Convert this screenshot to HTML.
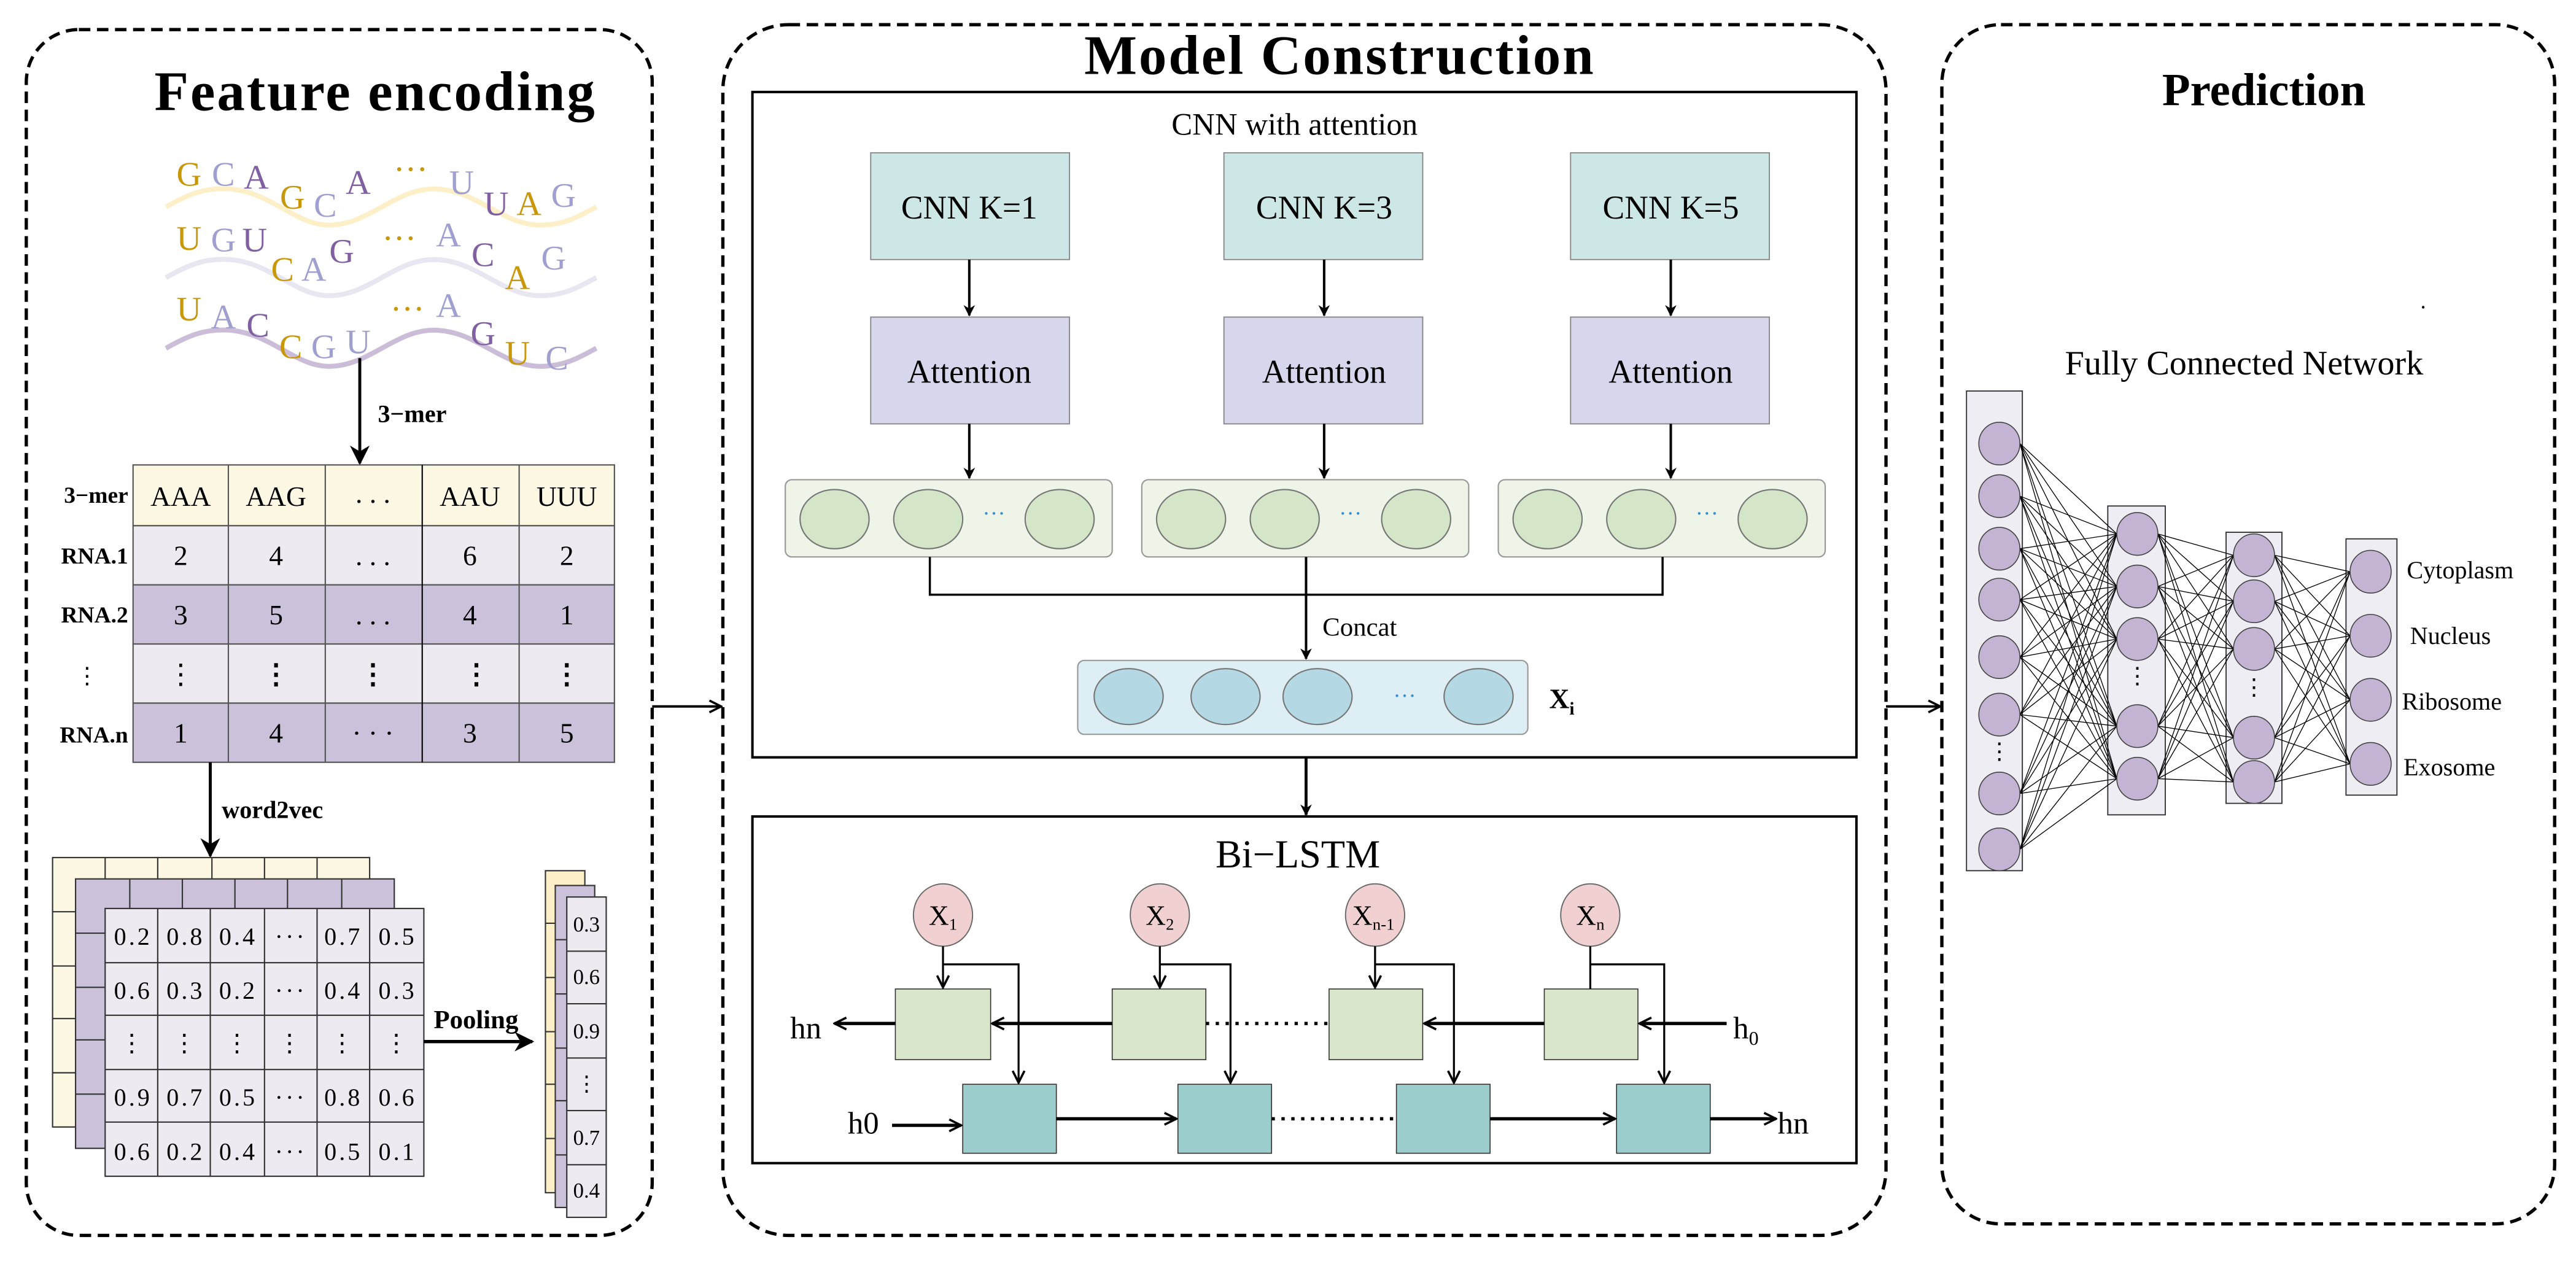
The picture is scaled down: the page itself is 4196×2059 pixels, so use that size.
<!DOCTYPE html>
<html><head><meta charset="utf-8"><style>html,body{margin:0;padding:0;background:#fff}svg{display:block}</style></head><body>
<svg width="4196" height="2059" viewBox="0 0 1568 769.4" preserveAspectRatio="none" xmlns="http://www.w3.org/2000/svg" font-family="Liberation Serif, serif">
<defs>
<marker id="a" viewBox="0 0 10 10" refX="9" refY="5" markerWidth="7" markerHeight="7" orient="auto" markerUnits="userSpaceOnUse"><path d="M0,0 L10,5 L0,10 L3,5 z" fill="#000"/></marker>
<marker id="o" viewBox="0 0 10 10" refX="9" refY="5" markerWidth="9" markerHeight="9" orient="auto" markerUnits="userSpaceOnUse"><path d="M1,1 L9,5 L1,9" fill="none" stroke="#000" stroke-width="1.5"/></marker>
<marker id="big" viewBox="0 0 10 10" refX="9" refY="5" markerWidth="12" markerHeight="12" orient="auto" markerUnits="userSpaceOnUse"><path d="M0,0 L10,5 L0,10 L3,5 z" fill="#000"/></marker>
</defs>
<rect x="16" y="18" width="381" height="734" rx="32" fill="none" stroke="#000" stroke-width="2" stroke-dasharray="7,4"/>
<rect x="440" y="15" width="708" height="737" rx="40" fill="none" stroke="#000" stroke-width="2" stroke-dasharray="7,4"/>
<rect x="1182" y="15" width="373" height="730" rx="36" fill="none" stroke="#000" stroke-width="2" stroke-dasharray="7,4"/>
<line x1="397" y1="430" x2="439" y2="430" stroke="#000" stroke-width="1.5" marker-end="url(#o)"/>
<line x1="1148" y1="430" x2="1181" y2="430" stroke="#000" stroke-width="1.5" marker-end="url(#o)"/>

<text x="228" y="67" font-size="34" font-weight="bold" text-anchor="middle" textLength="268">Feature encoding</text>
<g fill="none" stroke-width="3">
<path d="M101,126 C115,118 125,114 140,115 C165,117 180,137 200,137 C225,137 240,115 264,115 C290,115 305,137 329,137 C345,137 355,130 363,126" stroke="#fdf0c8"/>
<path d="M101,169 C115,161 125,157 140,158 C165,160 180,180 200,180 C225,180 240,158 264,158 C290,158 305,180 329,180 C345,180 355,173 363,169" stroke="#e8e6f0"/>
<path d="M101,212 C115,204 125,200 140,201 C165,203 180,223 200,223 C225,223 240,201 264,201 C290,201 305,223 329,223 C345,223 355,216 363,212" stroke="#cbbcd8"/>
</g>
<g font-size="21" text-anchor="middle">
<text x="115" y="113" fill="#c8980a">G</text><text x="136" y="113" fill="#a0a0d0">C</text><text x="156" y="115" fill="#8060a0">A</text><text x="178" y="127" fill="#c8980a">G</text><text x="198" y="132" fill="#a0a0d0">C</text><text x="218" y="118" fill="#8060a0">A</text><text x="250" y="110" fill="#c8980a">···</text><text x="281" y="118" fill="#a0a0d0">U</text><text x="302" y="131" fill="#8060a0">U</text><text x="322" y="131" fill="#c8980a">A</text><text x="343" y="126" fill="#a0a0d0">G</text>
<text x="115" y="152" fill="#c8980a">U</text><text x="136" y="153" fill="#a0a0d0">G</text><text x="155" y="153" fill="#8060a0">U</text><text x="172" y="171" fill="#c8980a">C</text><text x="191" y="171" fill="#a0a0d0">A</text><text x="208" y="160" fill="#8060a0">G</text><text x="243" y="152" fill="#c8980a">···</text><text x="273" y="150" fill="#a0a0d0">A</text><text x="294" y="162" fill="#8060a0">C</text><text x="315" y="176" fill="#c8980a">A</text><text x="337" y="164" fill="#a0a0d0">G</text>
<text x="115" y="195" fill="#c8980a">U</text><text x="136" y="200" fill="#a0a0d0">A</text><text x="157" y="205" fill="#8060a0">C</text><text x="177" y="218" fill="#c8980a">C</text><text x="197" y="218" fill="#a0a0d0">G</text><text x="218" y="215" fill="#a0a0d0">U</text><text x="248" y="195" fill="#c8980a">···</text><text x="273" y="193" fill="#a0a0d0">A</text><text x="294" y="210" fill="#8060a0">G</text><text x="315" y="222" fill="#c8980a">U</text><text x="339" y="225" fill="#a0a0d0">C</text>
</g>
<line x1="219" y1="218" x2="219" y2="282" stroke="#000" stroke-width="1.8" marker-end="url(#big)"/>
<text x="230" y="257" font-size="15" font-weight="bold">3−mer</text>
<g stroke="#555" stroke-width="0.8">
<rect x="81" y="283" width="293" height="37" fill="#fdf8e4"/>
<rect x="81" y="320" width="293" height="36" fill="#edeaf2"/>
<rect x="81" y="356" width="293" height="36" fill="#cbc1db"/>
<rect x="81" y="392" width="293" height="36" fill="#edeaf2"/>
<rect x="81" y="428" width="293" height="36" fill="#cbc1db"/>
<line x1="139" y1="283" x2="139" y2="464"/><line x1="198" y1="283" x2="198" y2="464"/><line x1="257" y1="283" x2="257" y2="464" stroke="#000"/><line x1="316" y1="283" x2="316" y2="464"/>
</g>
<g font-size="17" text-anchor="middle">
<text x="110" y="308">AAA</text><text x="168" y="308">AAG</text><text x="227" y="306">. . .</text><text x="286" y="308">AAU</text><text x="345" y="308">UUU</text>
<text x="110" y="344">2</text><text x="168" y="344">4</text><text x="227" y="344">. . .</text><text x="286" y="344">6</text><text x="345" y="344">2</text>
<text x="110" y="380">3</text><text x="168" y="380">5</text><text x="227" y="380">. . .</text><text x="286" y="380">4</text><text x="345" y="380">1</text>
<text x="110" y="416">⋮</text><text x="168" y="416" font-weight="bold">⋮</text><text x="227" y="416" font-weight="bold">⋮</text><text x="290" y="416" font-weight="bold">⋮</text><text x="345" y="416" font-weight="bold">⋮</text>
<text x="110" y="452">1</text><text x="168" y="452">4</text><text x="227" y="452">· · ·</text><text x="286" y="452">3</text><text x="345" y="452">5</text>
</g>
<g font-size="14" font-weight="bold" text-anchor="end">
<text x="78" y="306">3−mer</text><text x="78" y="343">RNA.1</text><text x="78" y="379">RNA.2</text><text x="60" y="416" font-weight="normal">⋮</text><text x="78" y="452">RNA.n</text>
</g>
<line x1="128" y1="464" x2="128" y2="521" stroke="#000" stroke-width="1.8" marker-end="url(#big)"/>
<text x="135" y="498" font-size="15" font-weight="bold">word2vec</text>
<g stroke="#333" stroke-width="0.8">
<rect x="32" y="522" width="193" height="164" fill="#fdf8e4"/>
<path d="M64,522V553M96,522V553M129,522V553M161,522V553M193,522V553M32,555H46M32,588H46M32,620H46M32,653H46"/>
<rect x="46" y="535" width="194" height="164" fill="#cbc1db"/>
<path d="M79,535V553M111,535V553M143,535V553M175,535V553M208,535V553M46,568H64M46,601H64M46,633H64M46,666H64"/>
<rect x="64" y="553" width="194" height="163" fill="#edeaf2"/>
<path d="M96,553V716M128,553V716M161,553V716M193,553V716M225,553V716M64,586H258M64,618H258M64,651H258M64,683H258"/>
</g>
<g font-size="15" text-anchor="middle" letter-spacing="1.5">
<text x="81" y="575">0.2</text><text x="113" y="575">0.8</text><text x="145" y="575">0.4</text><text x="177" y="575">···</text><text x="209" y="575">0.7</text><text x="242" y="575">0.5</text>
<text x="81" y="608">0.6</text><text x="113" y="608">0.3</text><text x="145" y="608">0.2</text><text x="177" y="608">···</text><text x="209" y="608">0.4</text><text x="242" y="608">0.3</text>
<text x="81" y="640">⋮</text><text x="113" y="640">⋮</text><text x="145" y="640">⋮</text><text x="177" y="640">⋮</text><text x="209" y="640">⋮</text><text x="242" y="640">⋮</text>
<text x="81" y="673">0.9</text><text x="113" y="673">0.7</text><text x="145" y="673">0.5</text><text x="177" y="673">···</text><text x="209" y="673">0.8</text><text x="242" y="673">0.6</text>
<text x="81" y="706">0.6</text><text x="113" y="706">0.2</text><text x="145" y="706">0.4</text><text x="177" y="706">···</text><text x="209" y="706">0.5</text><text x="242" y="706">0.1</text>
</g>
<line x1="258" y1="634" x2="324" y2="634" stroke="#000" stroke-width="2" marker-end="url(#big)"/>
<text x="264" y="626" font-size="16" font-weight="bold">Pooling</text>
<g stroke="#333" stroke-width="0.8">
<rect x="332" y="530" width="24" height="196" fill="#fdf0c8"/>
<path d="M332,562H338M332,595H338M332,628H338M332,660H338M332,693H338"/>
<rect x="338" y="539" width="24" height="196" fill="#cbc1db"/>
<path d="M338,572H345M338,605H345M338,638H345M338,670H345M338,703H345"/>
<rect x="345" y="546" width="24" height="195" fill="#edeaf2"/>
<path d="M345,579H369M345,611H369M345,644H369M345,676H369M345,709H369"/>
</g>
<g font-size="13" text-anchor="middle"><text x="357" y="567">0.3</text><text x="357" y="599">0.6</text><text x="357" y="632">0.9</text><text x="357" y="664">⋮</text><text x="357" y="697">0.7</text><text x="357" y="729">0.4</text></g>

<rect x="655" y="20" width="320" height="30" fill="#fff"/>
<text x="815" y="45" font-size="34" font-weight="bold" text-anchor="middle" textLength="310">Model Construction</text>
<rect x="458" y="56" width="672" height="405" fill="none" stroke="#000" stroke-width="1.5"/>
<text x="788" y="82" font-size="19" text-anchor="middle">CNN with attention</text>
<g stroke="#888" stroke-width="0.7">
<rect x="530" y="93" width="121" height="65" fill="#cde6e6"/><rect x="745" y="93" width="121" height="65" fill="#cde6e6"/><rect x="956" y="93" width="121" height="65" fill="#cde6e6"/>
<rect x="530" y="193" width="121" height="65" fill="#d6d6ec"/><rect x="745" y="193" width="121" height="65" fill="#d6d6ec"/><rect x="956" y="193" width="121" height="65" fill="#d6d6ec"/>
</g>
<g font-size="20" text-anchor="middle">
<text x="590" y="133">CNN K=1</text><text x="806" y="133">CNN K=3</text><text x="1017" y="133">CNN K=5</text>
<text x="590" y="233">Attention</text><text x="806" y="233">Attention</text><text x="1017" y="233">Attention</text>
</g>
<g stroke="#000" stroke-width="1.5">
<line x1="590" y1="158" x2="590" y2="192" marker-end="url(#a)"/><line x1="806" y1="158" x2="806" y2="192" marker-end="url(#a)"/><line x1="1017" y1="158" x2="1017" y2="192" marker-end="url(#a)"/>
<line x1="590" y1="258" x2="590" y2="291" marker-end="url(#a)"/><line x1="806" y1="258" x2="806" y2="291" marker-end="url(#a)"/><line x1="1017" y1="258" x2="1017" y2="291" marker-end="url(#a)"/>
</g>
<g stroke="#999" stroke-width="0.8">
<rect x="478" y="292" width="199" height="47" rx="4" fill="#eef4e8"/><rect x="695" y="292" width="199" height="47" rx="4" fill="#eef4e8"/><rect x="912" y="292" width="199" height="47" rx="4" fill="#eef4e8"/>
<g fill="#d5e6c8" stroke="#777">
<ellipse cx="508" cy="316" rx="21" ry="18"/><ellipse cx="565" cy="316" rx="21" ry="18"/><ellipse cx="645" cy="316" rx="21" ry="18"/>
<ellipse cx="725" cy="316" rx="21" ry="18"/><ellipse cx="782" cy="316" rx="21" ry="18"/><ellipse cx="862" cy="316" rx="21" ry="18"/>
<ellipse cx="942" cy="316" rx="21" ry="18"/><ellipse cx="999" cy="316" rx="21" ry="18"/><ellipse cx="1079" cy="316" rx="21" ry="18"/>
</g>
</g>
<g fill="#3a8fd0" font-size="14" text-anchor="middle"><text x="605" y="317">···</text><text x="822" y="317">···</text><text x="1039" y="317">···</text></g>
<path d="M566,339V362H1012V339" fill="none" stroke="#000" stroke-width="1.3"/>
<line x1="795" y1="339" x2="795" y2="401" stroke="#000" stroke-width="1.5" marker-end="url(#a)"/>
<text x="805" y="387" font-size="16">Concat</text>
<rect x="656" y="402" width="274" height="45" rx="4" fill="#ddeef4" stroke="#999" stroke-width="0.8"/>
<g fill="#b4d9e4" stroke="#777" stroke-width="0.8"><ellipse cx="687" cy="424" rx="21" ry="17"/><ellipse cx="746" cy="424" rx="21" ry="17"/><ellipse cx="802" cy="424" rx="21" ry="17"/><ellipse cx="900" cy="424" rx="21" ry="17"/></g>
<text x="855" y="428" fill="#3a8fd0" font-size="14" text-anchor="middle">···</text>
<text x="943" y="431" font-size="17" font-weight="bold">X<tspan font-size="11" dy="4">i</tspan></text>
<line x1="795" y1="461" x2="795" y2="496" stroke="#000" stroke-width="1.8" marker-end="url(#a)"/>
<rect x="458" y="497" width="672" height="211" fill="none" stroke="#000" stroke-width="1.5"/>
<text x="790" y="528" font-size="24" text-anchor="middle">Bi−LSTM</text>
<g fill="#f0d0d0" stroke="#666" stroke-width="0.7"><ellipse cx="574" cy="557" rx="18" ry="19"/><ellipse cx="706" cy="557" rx="18" ry="19"/><ellipse cx="837" cy="557" rx="18" ry="19"/><ellipse cx="968" cy="557" rx="18" ry="19"/></g>
<g font-size="17" text-anchor="middle">
<text x="574" y="563">X<tspan font-size="10" dy="3">1</tspan></text><text x="706" y="563">X<tspan font-size="10" dy="3">2</tspan></text><text x="836" y="563">X<tspan font-size="10" dy="3">n-1</tspan></text><text x="968" y="563">X<tspan font-size="10" dy="3">n</tspan></text>
</g>
<g stroke="#333" stroke-width="0.6">
<rect x="545" y="602" width="58" height="43" fill="#d9e6cb"/><rect x="677" y="602" width="57" height="43" fill="#d9e6cb"/><rect x="809" y="602" width="57" height="43" fill="#d9e6cb"/><rect x="940" y="602" width="57" height="43" fill="#d9e6cb"/>
<rect x="586" y="660" width="57" height="42" fill="#9ccdcd"/><rect x="717" y="660" width="57" height="42" fill="#9ccdcd"/><rect x="850" y="660" width="57" height="42" fill="#9ccdcd"/><rect x="984" y="660" width="57" height="42" fill="#9ccdcd"/>
</g>
<g stroke="#000" stroke-width="1.2" fill="none">
<line x1="574" y1="576" x2="574" y2="601" marker-end="url(#o)"/><line x1="706" y1="576" x2="706" y2="601" marker-end="url(#o)"/><line x1="837" y1="576" x2="837" y2="601" marker-end="url(#o)"/><line x1="968" y1="576" x2="968" y2="602"/>
<path d="M574,587H620V659" marker-end="url(#o)"/><path d="M706,587H749V659" marker-end="url(#o)"/><path d="M837,587H885V659" marker-end="url(#o)"/><path d="M968,587H1013V659" marker-end="url(#o)"/>
</g>
<g stroke="#000" stroke-width="2" fill="none">
<line x1="545" y1="623" x2="508" y2="623" marker-end="url(#o)"/><line x1="677" y1="623" x2="604" y2="623" marker-end="url(#o)"/>
<line x1="734" y1="623" x2="809" y2="623" stroke-dasharray="2,4"/>
<line x1="940" y1="623" x2="867" y2="623" marker-end="url(#o)"/><line x1="1051" y1="623" x2="998" y2="623" marker-end="url(#o)"/>
<line x1="543" y1="685" x2="585" y2="685" marker-end="url(#o)"/><line x1="643" y1="681" x2="716" y2="681" marker-end="url(#o)"/>
<line x1="774" y1="681" x2="850" y2="681" stroke-dasharray="2,4"/>
<line x1="907" y1="681" x2="983" y2="681" marker-end="url(#o)"/><line x1="1041" y1="681" x2="1081" y2="681" marker-end="url(#o)"/>
</g>
<g font-size="19"><text x="481" y="632">hn</text><text x="1055" y="632">h<tspan font-size="12" dy="4">0</tspan></text><text x="516" y="690">h0</text><text x="1082" y="690">hn</text></g>

<text x="1378" y="64" font-size="28" font-weight="bold" text-anchor="middle">Prediction</text>
<circle cx="1475" cy="187" r="0.8" fill="#000"/>
<text x="1366" y="228" font-size="21" text-anchor="middle">Fully Connected Network</text>
<g fill="#efedf4" stroke="#333" stroke-width="0.7">
<rect x="1197" y="238" width="34" height="292"/><rect x="1283" y="308" width="35" height="188"/><rect x="1355" y="324" width="34" height="165"/><rect x="1428" y="328" width="31" height="156"/>
</g>
<g id="fc" stroke="#000" stroke-width="0.5"></g>
<g fill="#c4b4d4" stroke="#444" stroke-width="0.6" id="nodes"></g>
<g font-size="14" text-anchor="middle"><text x="1217" y="462">⋮</text><text x="1301" y="416">⋮</text><text x="1372" y="423">⋮</text></g>
<g font-size="15"><text x="1465" y="352">Cytoplasm</text><text x="1467" y="392">Nucleus</text><text x="1462" y="432">Ribosome</text><text x="1463" y="472">Exosome</text></g>
<script>
(function(){
var L=[[1217,[270,302,334,365,400,435,483,517]],[1301,[325,357,389,442,474]],[1372,[338,366,395,449,476]],[1443,[348,387,426,465]]];
var ns="http://www.w3.org/2000/svg",fc=document.getElementById("fc"),nd=document.getElementById("nodes");
for(var i=0;i<3;i++){var a=L[i],b=L[i+1];a[1].forEach(function(y1){b[1].forEach(function(y2){var l=document.createElementNS(ns,"line");l.setAttribute("x1",a[0]+12.5);l.setAttribute("y1",y1);l.setAttribute("x2",b[0]-12.5);l.setAttribute("y2",y2);fc.appendChild(l);});});}
L.forEach(function(c){c[1].forEach(function(y){var e=document.createElementNS(ns,"ellipse");e.setAttribute("cx",c[0]);e.setAttribute("cy",y);e.setAttribute("rx",12.5);e.setAttribute("ry",13);nd.appendChild(e);});});
})();
</script>
</svg>
</body></html>
